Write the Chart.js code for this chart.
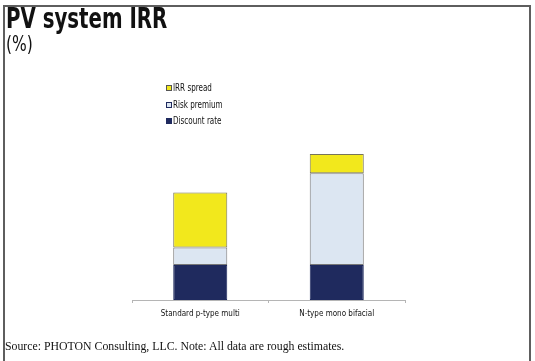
<!DOCTYPE html>
<html>
<head>
<meta charset="utf-8">
<script src="https://cdn.jsdelivr.net/npm/chart.js@4.4.1/dist/chart.umd.min.js"></script>
<style>
  html, body { margin: 0; padding: 0; background: #ffffff; }
  body { width: 535px; height: 361px; position: relative; overflow: hidden; }
  #frame { position: absolute; left: 3px; top: 5px; width: 524px; height: 400px; border: 2px solid #5e5e5e; }
  #title { position: absolute; left: 6px; top: 3px; font-family: "DejaVu Sans Condensed", "DejaVu Sans", sans-serif; font-weight: bold; font-size: 28px; line-height: 32px; color: #111; transform: scaleX(0.785); transform-origin: 0 0; white-space: nowrap; }
  #subtitle { position: absolute; left: 6px; top: 31px; font-family: "DejaVu Sans Condensed", "DejaVu Sans", sans-serif; font-size: 21px; line-height: 26px; color: #111; transform: scaleX(0.82); transform-origin: 0 0; white-space: nowrap; }
  #source { position: absolute; left: 5px; top: 338px; font-family: "Liberation Serif", "DejaVu Serif", serif; font-size: 11.8px; line-height: 16px; color: #111; white-space: nowrap; }
  canvas { position: absolute; left: 0; top: 0; }
</style>
</head>
<body>
<div id="frame"></div>
<canvas id="c" width="535" height="361"></canvas>
<div id="title">PV system IRR</div>
<div id="subtitle">(%)</div>
<div id="source">Source: PHOTON Consulting, LLC. Note: All data are rough estimates.</div>
<script>
const categories = ["Standard p-type multi", "N-type mono bifacial"];
const discountRate = [4.0, 4.0];
const riskPremium = [2.0, 10.5];
const irrSpread = [6.3, 2.2];
const seriesNames = ["Discount rate", "Risk premium", "IRR spread"];

const NAVY = '#1f2a5e', LIGHT = '#dce6f2', YELLOW = '#f2e81c';
const FONT = '"DejaVu Sans Condensed", "DejaVu Sans", sans-serif';

const legendPlugin = {
  id: 'vlegend',
  afterDraw(chart) {
    const ctx = chart.ctx;
    const ds = chart.data.datasets;
    ctx.save();
    ctx.font = '10px ' + FONT;
    ctx.textBaseline = 'middle';
    const x0 = 166, y0 = 88, step = 16.5;
    for (let k = 0; k < ds.length; k++) {
      const d = ds[ds.length - 1 - k];
      const y = Math.round(y0 + k * step);
      ctx.fillStyle = d.backgroundColor;
      ctx.fillRect(x0, y - 3, 6, 6);
      ctx.strokeStyle = d.legendBorder;
      ctx.lineWidth = 1;
      ctx.strokeRect(x0 + 0.5, y - 2.5, 5, 5);
      ctx.save();
      ctx.translate(x0 + 7, y);
      ctx.scale(0.8, 1);
      ctx.fillStyle = '#111';
      ctx.fillText(d.label, 0, 0);
      ctx.restore();
    }
    ctx.restore();
  }
};

new Chart(document.getElementById('c'), {
  type: 'bar',
  data: {
    labels: categories,
    datasets: [
      { label: seriesNames[0], data: discountRate, backgroundColor: NAVY, borderColor: NAVY, legendBorder: NAVY },
      { label: seriesNames[1], data: riskPremium, backgroundColor: LIGHT, borderColor: '#777777', legendBorder: NAVY },
      { label: seriesNames[2], data: irrSpread, backgroundColor: YELLOW, borderColor: '#77745a', legendBorder: '#555' }
    ].map(d => Object.assign(d, { borderWidth: 1, borderSkipped: false, barPercentage: 0.396, categoryPercentage: 1.0 }))
  },
  options: {
    responsive: false,
    animation: false,
    devicePixelRatio: 1,
    layout: { padding: { left: 132, right: 130, top: 125, bottom: 31 } },
    plugins: { legend: { display: false }, tooltip: { enabled: false } },
    scales: {
      x: {
        stacked: true,
        afterFit: (s) => { s.height = 30; },
        grid: { drawOnChartArea: false, drawTicks: true, tickLength: 3, color: '#b5b5b5' },
        border: { display: true, color: '#b5b5b5', width: 1 },
        ticks: { color: '#111', padding: 6, font: { family: FONT, size: 8 } }
      },
      y: { stacked: true, display: false, min: 0, max: 20 }
    }
  },
  plugins: [legendPlugin]
});
</script>
</body>
</html>
